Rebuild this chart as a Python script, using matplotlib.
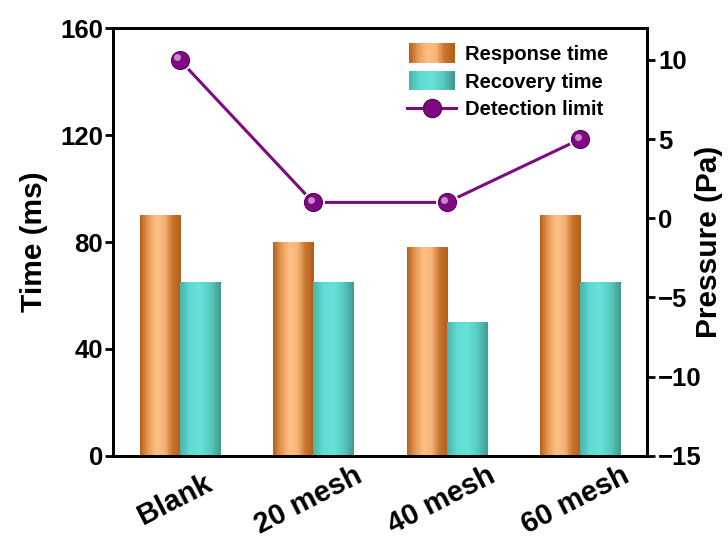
import numpy as np
import matplotlib
matplotlib.use("Agg")
import matplotlib.pyplot as plt
from matplotlib.colors import LinearSegmentedColormap
from matplotlib.patches import Rectangle
from matplotlib.lines import Line2D
from matplotlib.legend_handler import HandlerBase
from matplotlib import transforms

# ------------------------------------------------------------
# Data
# ------------------------------------------------------------
categories = ["Blank", "20 mesh", "40 mesh", "60 mesh"]
response_time = [90, 80, 78, 90]
recovery_time = [65, 65, 50, 65]
detection_limit = [10, 1, 1, 5]

plt.rcParams["font.family"] = ["Liberation Sans", "DejaVu Sans"]
plt.rcParams["font.weight"] = "bold"

PURPLE = "#7d0a80"

orange_cmap = LinearSegmentedColormap.from_list(
    "orange", ["#b5611c", "#e89a55", "#fdc085", "#f7b478", "#c8742c", "#b0601e"])
teal_cmap = LinearSegmentedColormap.from_list(
    "teal", ["#48b5aa", "#62dcd2", "#66e2d8", "#58cbc1", "#3f9c92"])


def gradient_bar(ax, x0, width, height, cmap):
    grad = np.linspace(0, 1, 64).reshape(1, -1)
    ax.imshow(grad, extent=[x0, x0 + width, 0, height], aspect="auto",
              cmap=cmap, origin="lower", zorder=2, interpolation="bicubic")


class GradientHandler(HandlerBase):
    def __init__(self, cmap):
        super().__init__()
        self.cmap = cmap

    def create_artists(self, legend, orig_handle, xdescent, ydescent,
                       width, height, fontsize, trans):
        n = 30
        arts = []
        w = width * 0.95
        x_start = (width - w) / 2 - xdescent
        for i in range(n):
            r = Rectangle((x_start + i * w / n, -ydescent - height * 0.2),
                          w / n * 1.05, height * 1.4,
                          facecolor=self.cmap(i / (n - 1)), edgecolor="none",
                          transform=trans)
            arts.append(r)
        return arts


# ------------------------------------------------------------
# Plot
# ------------------------------------------------------------
fig = plt.figure(figsize=(7.28, 5.42), dpi=100)
ax = fig.add_axes([0.155, 0.159, 0.734, 0.789])

x = np.arange(len(categories))
bw = 0.3
for i in range(len(categories)):
    gradient_bar(ax, x[i] - bw, bw, response_time[i], orange_cmap)
    gradient_bar(ax, x[i], bw, recovery_time[i], teal_cmap)

ax.set_xlim(-0.5, 3.5)
ax.set_ylim(0, 160)
ax.set_yticks([0, 40, 80, 120, 160])
ax.set_xticks(x)
ax.set_xticklabels(categories, rotation=27, ha="center", va="center",
                   rotation_mode="anchor")
ax.set_ylabel("Time (ms)", fontsize=21.5, fontweight="bold", labelpad=9)
ax.tick_params(axis="y", direction="out", length=6, width=2, labelsize=18.5,
               pad=1)
ax.tick_params(axis="x", direction="in", length=6, width=2, labelsize=21, pad=32)
shift = transforms.ScaledTranslation(-0.05, 0, fig.dpi_scale_trans)
for lab in ax.get_xticklabels():
    lab.set_transform(lab.get_transform() + shift)
for s in ax.spines.values():
    s.set_linewidth(2)

ax2 = ax.twinx()
ax2.plot(x, detection_limit, color=PURPLE, linewidth=2.2, zorder=3)
ax2.plot(x, detection_limit, linestyle="none", marker="o", markersize=16.5,
         markerfacecolor="white", markeredgecolor="none", zorder=4)
ax2.plot(x, detection_limit, linestyle="none", marker="o", markersize=13,
         markerfacecolor="#7e0a82", markeredgecolor="#5a0060",
         markeredgewidth=0.8, zorder=5)
hl = transforms.offset_copy(ax2.transData, fig=fig, x=-1.8, y=1.8, units="points")
ax2.plot(x, detection_limit, linestyle="none", marker="o", markersize=5,
         markerfacecolor="#dcaee0", markeredgecolor="none", alpha=0.8,
         transform=hl, zorder=6)
ax2.set_ylim(-15, 12)
ax2.set_yticks([-15, -10, -5, 0, 5, 10])
ax2.set_ylabel("Pressure (Pa)", fontsize=21.5, fontweight="bold", labelpad=-5)
ax2.tick_params(axis="y", direction="out", length=6, width=2, labelsize=18.5,
                pad=2)
for s in ax2.spines.values():
    s.set_linewidth(2)

h_resp = Rectangle((0, 0), 1, 1)
h_rec = Rectangle((0, 0), 1, 1, facecolor="c")
h_det = Line2D([], [], color=PURPLE, linewidth=2.2, marker="o", markersize=13,
               markerfacecolor="#7e0a82", markeredgecolor="#5a0060")
ax2.legend([h_resp, h_rec, h_det],
           ["Response time", "Recovery time", "Detection limit"],
           handler_map={h_resp: GradientHandler(orange_cmap),
                        h_rec: GradientHandler(teal_cmap)},
           loc="upper right", bbox_to_anchor=(0.942, 0.979), frameon=False,
           prop={"size": 14.5, "weight": "bold"},
           handlelength=2.4, handletextpad=0.45, labelspacing=0.42,
           borderaxespad=0)

fig.savefig("out.png", dpi=100)
